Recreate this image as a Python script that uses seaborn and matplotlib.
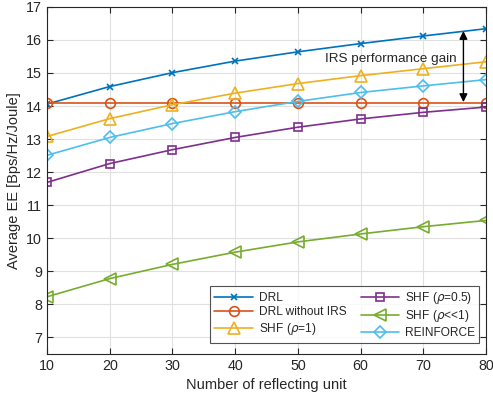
import matplotlib
matplotlib.use("Agg")
import matplotlib.pyplot as plt
import seaborn as sns
import pandas as pd

units = [10, 20, 30, 40, 50, 60, 70, 80]
drl = [14.06, 14.59, 15.01, 15.36, 15.64, 15.89, 16.12, 16.34]
drl_no_irs = [14.1, 14.1, 14.1, 14.1, 14.1, 14.1, 14.1, 14.1]
shf_rho1 = [13.08, 13.62, 14.04, 14.39, 14.68, 14.92, 15.13, 15.34]
shf_rho05 = [11.69, 12.26, 12.68, 13.05, 13.36, 13.61, 13.81, 13.97]
shf_rho_small = [8.23, 8.78, 9.21, 9.58, 9.89, 10.13, 10.35, 10.54]
reinforce = [12.51, 13.05, 13.47, 13.83, 14.14, 14.41, 14.61, 14.80]

labels = ["DRL", "DRL without IRS", r"SHF ($\rho$=1)", r"SHF ($\rho$=0.5)",
          r"SHF ($\rho$<<1)", "REINFORCE"]
series = [drl, drl_no_irs, shf_rho1, shf_rho05, shf_rho_small, reinforce]
colors = ["#0072BD", "#D95319", "#EDB120", "#7E2F8E", "#77AC30", "#4DBEEE"]
markers = ["x", "o", "^", "s", "<", "D"]
msizes = [5, 7, 8, 5.5, 8, 6]

sns.set_style("ticks")
plt.rcParams['font.family'] = ['Liberation Sans', 'DejaVu Sans']

fig = plt.figure(figsize=(4.93, 4.05), dpi=100)
ax = fig.add_axes([0.0953, 0.126, 0.8905, 0.857])

for lab, vals, c, m, ms in zip(labels, series, colors, markers, msizes):
    df = pd.DataFrame({"x": units, "y": vals})
    sns.lineplot(data=df, x="x", y="y", ax=ax, color=c, marker=m,
                 markersize=ms, markerfacecolor="none", markeredgecolor=c,
                 markeredgewidth=1.2, linewidth=1.2, label=lab)

ax.set_xlim(10, 80)
ax.set_ylim(6.5, 17)
ax.set_xticks(range(10, 81, 10))
ax.set_yticks(range(7, 18))
ax.grid(True, color="#e0e0e0", linewidth=0.8)
ax.set_axisbelow(True)
ax.tick_params(direction="in", top=True, right=True, labelsize=10.3,
               colors="#262626", length=4)
for s in ax.spines.values():
    s.set_color("#262626")
    s.set_linewidth(0.8)
ax.set_xlabel("Number of reflecting unit", fontsize=10.5, color="#262626")
ax.set_ylabel("Average EE [Bps/Hz/Joule]", fontsize=10.5, color="#262626")

ax.annotate("", xy=(76.4, 16.27), xytext=(76.4, 14.12),
            arrowprops=dict(arrowstyle="<|-|>", color="black", lw=1.0,
                            mutation_scale=12, shrinkA=0, shrinkB=0))
ax.text(54.3, 15.43, "IRS performance gain", fontsize=9.7, va="center",
        ha="left", color="#262626")

leg = ax.legend(loc="lower right", bbox_to_anchor=(1 - 7 / 439, 11 / 347),
                borderaxespad=0, ncol=2, fontsize=8.6, handlelength=3.2,
                frameon=True, fancybox=False, edgecolor="#262626",
                columnspacing=1.2, handletextpad=0.5,
                labelspacing=0.2, borderpad=0.35)
leg.get_frame().set_linewidth(0.8)

fig.savefig("out.png", dpi=100)
